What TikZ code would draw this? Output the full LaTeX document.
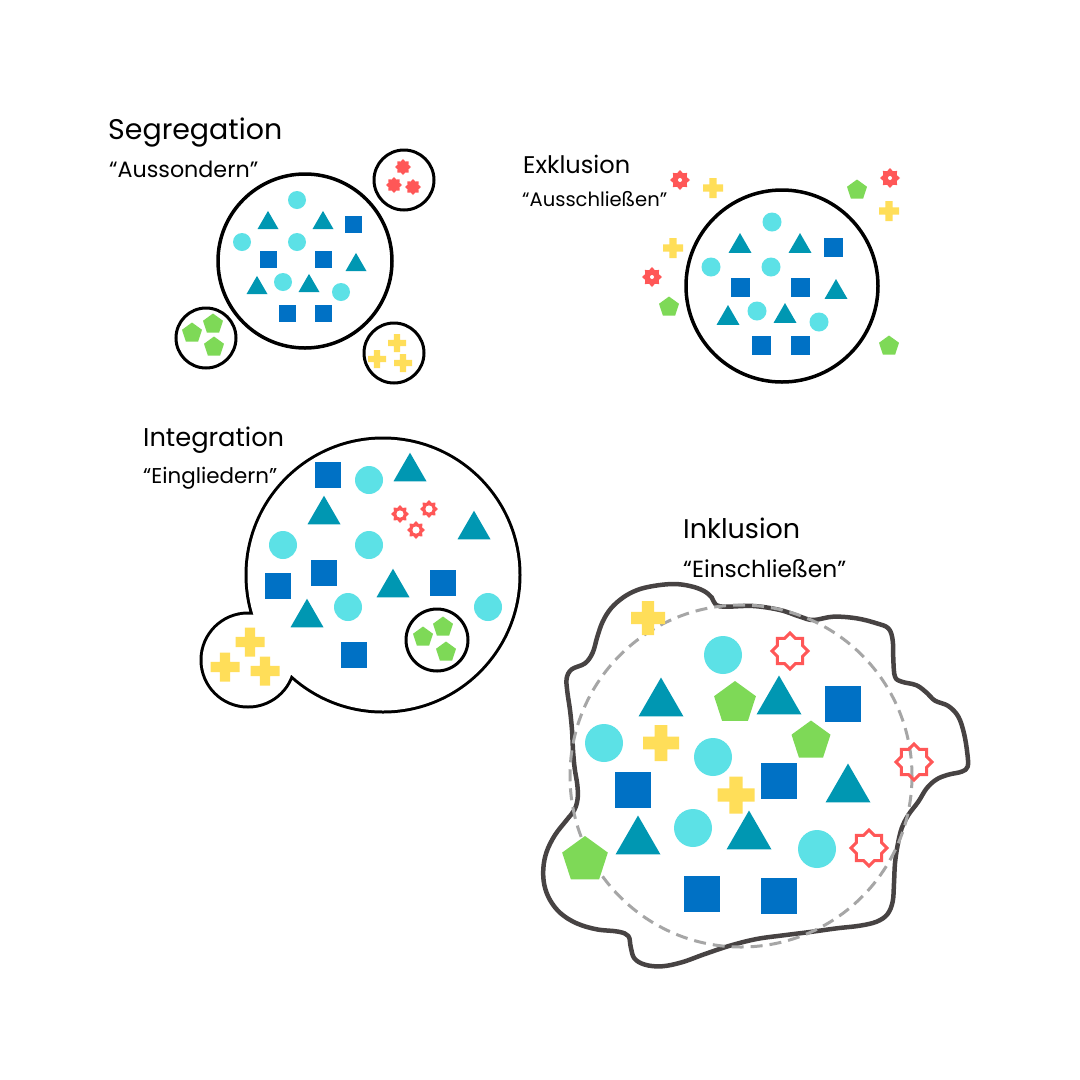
\documentclass[tikz,border=0pt]{standalone}
\usepackage{fontspec}
\setmainfont{Poppins}
\usepackage{graphicx}
\definecolor{csq}{HTML}{0071C5}
\definecolor{ctr}{HTML}{0097B2}
\definecolor{ccy}{HTML}{5CE1E6}
\definecolor{cpe}{HTML}{7ED957}
\definecolor{ccr}{HTML}{FFDE59}
\definecolor{cst}{HTML}{FF5757}
\definecolor{cblob}{HTML}{474343}
\definecolor{cdash}{HTML}{A6A6A6}
\newcommand{\starpts}[2]{(90:#1) -- (112.5:#2) -- (135:#1) -- (157.5:#2) -- (180:#1) -- (202.5:#2) -- (225:#1) -- (247.5:#2) -- (270:#1) -- (292.5:#2) -- (315:#1) -- (337.5:#2) -- (0:#1) -- (22.5:#2) -- (45:#1) -- (67.5:#2) -- cycle}
\newcommand{\Sq}[3]{\fill[csq] (#1-#3/2,#2-#3/2) rectangle ++(#3,#3);}
\newcommand{\Ci}[3]{\fill[ccy] (#1,#2) circle[radius=#3];}
\newcommand{\Tr}[3]{\fill[ctr] (#1,#2-0.433*#3) -- (#1+#3/2,#2+0.433*#3) -- (#1-#3/2,#2+0.433*#3) -- cycle;}
\newcommand{\Pe}[3]{\fill[cpe,shift={(#1,#2)}] (270:#3) -- (342:#3) -- (54:#3) -- (126:#3) -- (198:#3) -- cycle;}
\newcommand{\Cr}[3]{\fill[ccr,shift={(#1,#2)}] (-#3/2,-0.18*#3) rectangle (#3/2,0.18*#3) (-0.18*#3,-#3/2) rectangle (0.18*#3,#3/2);}
\newcommand{\StA}[3]{\fill[cst,shift={(#1,#2)}] \starpts{#3}{0.74*#3};}
\newcommand{\StB}[3]{\fill[cst,shift={(#1,#2)}] \starpts{#3}{0.74*#3}; \fill[white] (#1,#2) circle[radius=0.2*#3];}
\newcommand{\StC}[3]{\fill[cst,shift={(#1,#2)}] \starpts{#3}{0.74*#3}; \fill[white] (#1,#2) circle[radius=0.4*#3];}
\newcommand{\StD}[3]{\draw[draw=cst,line width=3pt,shift={(#1,#2)}] \starpts{#3}{0.765*#3};}
\begin{document}
\begin{tikzpicture}[x=1pt,y=-1pt,
  ring/.style={draw=black,line width=3pt},
  bigring/.style={draw=black,line width=3.5pt},
  lbl/.style={anchor=base west,inner sep=0pt,text=black}]
\fill[white] (0,0) rectangle (1080,1080);
\useasboundingbox (0,0) rectangle (1080,1080);

% ---------- Segregation ----------
\node[lbl] (tseg) at (108,139) {\resizebox{174pt}{!}{\fontsize{30}{30}\selectfont Segregation}};
\node[lbl] (sseg) at (109,177) {\resizebox{149pt}{!}{\fontsize{23}{23}\selectfont “Aussondern”}};
\draw[bigring] (305,261) circle[radius=87];
\draw[ring] (404,180) circle[radius=30];
\draw[ring] (206,338) circle[radius=30];
\draw[ring] (394,353) circle[radius=30];
\Ci{297}{200}{9} \Tr{268}{220}{21} \Tr{323}{220}{21} \Sq{353}{224}{17}
\Ci{242}{242}{9} \Ci{297}{242}{9} \Sq{268}{259}{17} \Sq{323}{259}{17}
\Tr{356}{262}{21} \Tr{257}{285}{21} \Ci{283}{282}{9} \Tr{309}{283}{21}
\Ci{341}{292}{9} \Sq{287}{313}{17} \Sq{323}{313}{17}
\StA{403}{167}{8} \StA{394}{185}{8} \StA{413}{187}{8}
\Pe{192}{333}{10.5} \Pe{213}{324}{10.5} \Pe{214}{347}{10.5}
\Cr{397}{343}{18} \Cr{377}{359}{18} \Cr{403}{363}{18}

% ---------- Exklusion ----------
\node[lbl] (texk) at (523,173) {\resizebox{107pt}{!}{\fontsize{24}{24}\selectfont Exklusion}};
\node[lbl] (sexk) at (522,206) {\resizebox{145pt}{!}{\fontsize{20}{20}\selectfont “Ausschließen”}};
\draw[bigring] (782,286) circle[radius=96];
\Ci{772}{222}{9.5} \Tr{740}{243}{23} \Tr{800}{243}{23} \Sq{833}{247}{19}
\Ci{711}{267}{9.5} \Ci{771}{267}{9.5} \Sq{740}{287}{19} \Sq{800}{287}{19}
\Tr{836}{289}{23} \Tr{728}{315}{23} \Ci{757}{311}{9.5} \Tr{785}{313}{23}
\Ci{819}{322}{9.5} \Sq{761}{345}{19} \Sq{800}{345}{19}
\StB{680}{180}{10} \Cr{713}{188}{20} \Pe{857}{190}{10.5} \StB{890}{178}{10}
\Cr{889}{211}{20} \Cr{673}{248}{20} \StB{652}{277}{10} \Pe{669}{307}{10.5}
\Pe{889}{346}{10.5}

% ---------- Integration ----------
\node[lbl] (tint) at (143,446) {\resizebox{141pt}{!}{\fontsize{27}{27}\selectfont Integration}};
\node[lbl] (sint) at (143,483) {\resizebox{134pt}{!}{\fontsize{22}{22}\selectfont “Eingliedern”}};
\fill[black] (383,575) circle[radius=138.5] (248,660) circle[radius=48.5];
\fill[white] (383,575) circle[radius=135.5] (248,660) circle[radius=45.5];
\draw[ring] (437,640) circle[radius=31];
\Sq{328}{475}{26} \Ci{369}{480}{14} \Tr{410}{467}{33} \Tr{324}{510}{33}
\StC{400}{514}{9} \StC{429}{509}{9} \StC{416}{530}{9}
\Tr{474}{525}{33} \Ci{283}{545}{14} \Ci{369}{545}{14}
\Sq{278}{586}{26} \Sq{324}{573}{26} \Tr{393}{583}{33} \Sq{443}{583}{26}
\Ci{488}{607}{14} \Tr{307}{613}{33} \Ci{348}{607}{14} \Sq{354}{655}{26}
\Cr{250}{642}{29} \Cr{225}{667}{29} \Cr{265}{671}{29}
\Pe{423}{637}{10.5} \Pe{443}{627}{10.5} \Pe{446}{652}{10.5}

% ---------- Inklusion ----------
\node[lbl] (tink) at (683,538) {\resizebox{117pt}{!}{\fontsize{28}{28}\selectfont Inklusion}};
\node[lbl] (sink) at (683,577) {\resizebox{163pt}{!}{\fontsize{24}{24}\selectfont “Einschließen”}};
\begin{scope}[shift={(540,500)},scale=1/3]
\draw[cblob,line width=4.5pt,line join=round] plot[smooth cycle,tension=0.6] coordinates {
(80,535) (95,508) (135,490) (158,458) (172,410) (188,365) (213,325) (250,292)
(292,270) (340,258) (400,252) (450,258) (490,272) (515,292) (528,315) (560,320)
(640,318) (720,330) (780,350) (820,360) (880,350) (950,355) (1010,370) (1045,385)
(1058,420) (1060,480) (1065,530) (1085,545) (1130,556) (1162,580) (1185,602)
(1225,618) (1255,650) (1272,700) (1282,760) (1283,800) (1265,815) (1225,824)
(1190,838) (1160,865) (1135,905) (1105,945) (1085,985) (1073,1035) (1065,1090)
(1062,1150) (1058,1205) (1042,1243) (1010,1265) (960,1277) (890,1285) (810,1296)
(730,1306) (650,1317) (570,1337) (495,1362) (425,1387) (365,1399) (315,1394)
(283,1375) (272,1340) (265,1308) (235,1295) (170,1288) (110,1270) (62,1240)
(30,1200) (13,1155) (10,1105) (20,1055) (45,1005) (80,960) (103,930) (113,895)
(112,855) (104,805) (99,750) (96,690) (90,630) (82,575)};
\end{scope}
\draw[cdash,line width=3pt,dash pattern=on 12pt off 7pt] (741,776) circle[radius=171];
\Cr{648}{618}{34} \Ci{723}{655}{19} \StD{790}{651}{18}
\Tr{661}{697}{45} \Pe{735}{703}{22} \Tr{779}{695}{45} \Sq{843}{704}{36}
\Ci{604}{743}{19} \Cr{661}{743}{36} \Ci{713}{757}{19} \Pe{811}{741}{20.5}
\StD{914}{762}{18} \Sq{633}{790}{36} \Sq{779}{781}{36} \Cr{736}{795}{37}
\Tr{848}{783}{45} \Tr{638}{835}{45} \Ci{693}{828}{19} \Tr{749}{830}{45}
\Ci{817}{849}{19} \StD{869}{848}{18} \Pe{585}{860}{24}
\Sq{702}{894}{36} \Sq{779}{896}{36}
\end{tikzpicture}
\end{document}
